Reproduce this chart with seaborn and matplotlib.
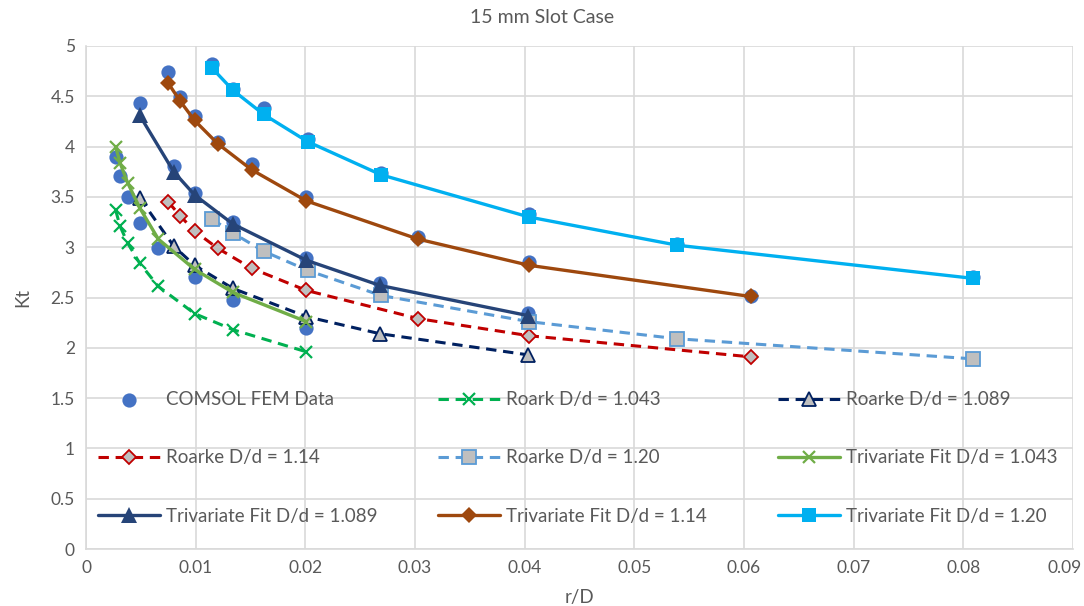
import matplotlib
matplotlib.use("Agg")
import matplotlib.pyplot as plt
import matplotlib.transforms as mtransforms
import seaborn as sns

# ---------------- data ----------------
comsol_x = [0.0027, 0.0031, 0.0038, 0.0049, 0.0066, 0.0099, 0.0134, 0.0201,
            0.0049, 0.0080, 0.0099, 0.0134, 0.0201, 0.0268, 0.0403,
            0.0075, 0.0086, 0.0099, 0.0120, 0.0151, 0.0201, 0.0303, 0.0404, 0.0606,
            0.0115, 0.0134, 0.0162, 0.0202, 0.0269, 0.0404, 0.0539, 0.0809]
comsol_y = [3.90, 3.71, 3.50, 3.24, 2.99, 2.70, 2.48, 2.20,
            4.43, 3.81, 3.54, 3.25, 2.89, 2.64, 2.35,
            4.74, 4.49, 4.30, 4.05, 3.83, 3.50, 3.10, 2.85, 2.51,
            4.82, 4.57, 4.38, 4.08, 3.74, 3.33, 3.03, 2.70]

x_1043 = [0.0027, 0.0031, 0.0038, 0.0049, 0.0066, 0.0099, 0.0134, 0.0201]
roark_1043 = [3.37, 3.21, 3.04, 2.84, 2.61, 2.34, 2.18, 1.96]
fit_1043 = [4.00, 3.84, 3.64, 3.39, 3.08, 2.78, 2.55, 2.26]

x_1089 = [0.0049, 0.0080, 0.0099, 0.0134, 0.0201, 0.0268, 0.0403]
roark_1089 = [3.49, 3.01, 2.82, 2.59, 2.31, 2.14, 1.93]
fit_1089 = [4.31, 3.75, 3.52, 3.23, 2.87, 2.62, 2.32]

x_114 = [0.0075, 0.0086, 0.0099, 0.0120, 0.0151, 0.0201, 0.0303, 0.0404, 0.0606]
roark_114 = [3.45, 3.31, 3.16, 2.99, 2.79, 2.57, 2.29, 2.12, 1.91]
fit_114 = [4.63, 4.45, 4.26, 4.03, 3.77, 3.46, 3.08, 2.82, 2.51]

x_120 = [0.0115, 0.0134, 0.0162, 0.0202, 0.0269, 0.0404, 0.0539, 0.0809]
roark_120 = [3.28, 3.14, 2.96, 2.77, 2.52, 2.26, 2.09, 1.89]
fit_120 = [4.78, 4.56, 4.32, 4.05, 3.72, 3.30, 3.02, 2.69]

x_ticks = [0, 0.01, 0.02, 0.03, 0.04, 0.05, 0.06, 0.07, 0.08, 0.09]
x_tick_labels = ["0", "0.01", "0.02", "0.03", "0.04", "0.05", "0.06", "0.07", "0.08", "0.09"]
y_ticks = [0, 0.5, 1, 1.5, 2, 2.5, 3, 3.5, 4, 4.5, 5]
y_tick_labels = ["0", "0.5", "1", "1.5", "2", "2.5", "3", "3.5", "4", "4.5", "5"]

# ---------------- style ----------------
sns.set_theme(style="white")
plt.rcParams["font.family"] = ["Lato", "DejaVu Sans"]
TXT = "#595959"
GRID = "#D9D9D9"
GRAY = "#BFBFBF"

fig = plt.figure(figsize=(10.84, 6.06), dpi=100)
ax = fig.add_axes([86 / 1084, 1 - 549 / 606, 987 / 1084, 503 / 606])

DASH = (0, (3.4, 2.2))

sns.scatterplot(x=comsol_x, y=comsol_y, ax=ax, color="#4472C4", s=105,
                linewidth=0, label="COMSOL FEM Data", zorder=3)

sns.lineplot(x=x_1043, y=roark_1043, ax=ax, color="#00B050", lw=2.2, linestyle=DASH,
             marker="x", markersize=9, markeredgewidth=1.6, markeredgecolor="#00B050",
             label="Roark D/d = 1.043", zorder=4)
sns.lineplot(x=x_1089, y=roark_1089, ax=ax, color="#002060", lw=2.2, linestyle=DASH,
             marker="^", markersize=10, markerfacecolor=GRAY, markeredgewidth=1.3,
             markeredgecolor="#002060", label="Roarke D/d = 1.089", zorder=4)
sns.lineplot(x=x_114, y=roark_114, ax=ax, color="#C00000", lw=2.2, linestyle=DASH,
             marker="D", markersize=7.5, markerfacecolor=GRAY, markeredgewidth=1.3,
             markeredgecolor="#C00000", label="Roarke D/d = 1.14", zorder=4)
sns.lineplot(x=x_120, y=roark_120, ax=ax, color="#5B9BD5", lw=2.2, linestyle=DASH,
             marker="s", markersize=9.5, markerfacecolor=GRAY, markeredgewidth=1.3,
             markeredgecolor="#5B9BD5", label="Roarke D/d = 1.20", zorder=4)

sns.lineplot(x=x_1043, y=fit_1043, ax=ax, color="#70AD47", lw=2.4,
             marker="x", markersize=9, markeredgewidth=1.6, markeredgecolor="#70AD47",
             label="Trivariate Fit D/d = 1.043", zorder=5)
sns.lineplot(x=x_1089, y=fit_1089, ax=ax, color="#264478", lw=2.4,
             marker="^", markersize=11, markeredgewidth=0, markeredgecolor="#264478",
             label="Trivariate Fit D/d = 1.089", zorder=5)
sns.lineplot(x=x_114, y=fit_114, ax=ax, color="#9E480E", lw=2.4,
             marker="D", markersize=8.5, markeredgewidth=0, markeredgecolor="#9E480E",
             label="Trivariate Fit D/d = 1.14", zorder=5)
sns.lineplot(x=x_120, y=fit_120, ax=ax, color="#00B0F0", lw=2.4,
             marker="s", markersize=10.5, markeredgewidth=0, markeredgecolor="#00B0F0",
             label="Trivariate Fit D/d = 1.20", zorder=5)

ax.set_xlim(0, 0.09)
ax.set_ylim(0, 5)
ax.set_xticks(x_ticks)
ax.set_xticklabels(x_tick_labels)
ax.set_yticks(y_ticks)
ax.set_yticklabels(y_tick_labels)
ax.grid(True, color=GRID, lw=1.2)
ax.set_axisbelow(True)
for side in ["top", "right"]:
    ax.spines[side].set_visible(False)
for side in ["left", "bottom"]:
    ax.spines[side].set_color(GRID)
    ax.spines[side].set_linewidth(1.2)
ax.tick_params(axis="both", colors=TXT, labelsize=12.5, length=0, pad=8)
# keep the last x tick label inside the figure (as Excel does)
last = ax.get_xticklabels()[-1]
last.set_transform(last.get_transform() +
                   mtransforms.ScaledTranslation(-8 / 100, 0, fig.dpi_scale_trans))
ax.set_xlabel("r/D", color=TXT, fontsize=13.5, labelpad=9)
ax.set_ylabel("Kt", color=TXT, fontsize=13.5, labelpad=14)
fig.suptitle("15 mm Slot Case", color=TXT, fontsize=14, x=0.5, y=0.985)

handles, labels = ax.get_legend_handles_labels()
cols = [[0, 3, 6], [1, 4, 7], [2, 5, 8]]
col_x = [(98 - 86) / 987, (438 - 86) / 987, (778 - 86) / 987]
for ci, idx in enumerate(cols):
    leg = ax.legend([handles[i] for i in idx], [labels[i] for i in idx],
                    ncol=1, loc="center left", bbox_to_anchor=(col_x[ci], 0.181),
                    frameon=False, fontsize=13.5, handlelength=3.3, handletextpad=0.32,
                    labelspacing=2.2, borderpad=0, borderaxespad=0)
    for t in leg.get_texts():
        t.set_color(TXT)
    if ci < 2:
        ax.add_artist(leg)

fig.savefig("out.png", dpi=100)
